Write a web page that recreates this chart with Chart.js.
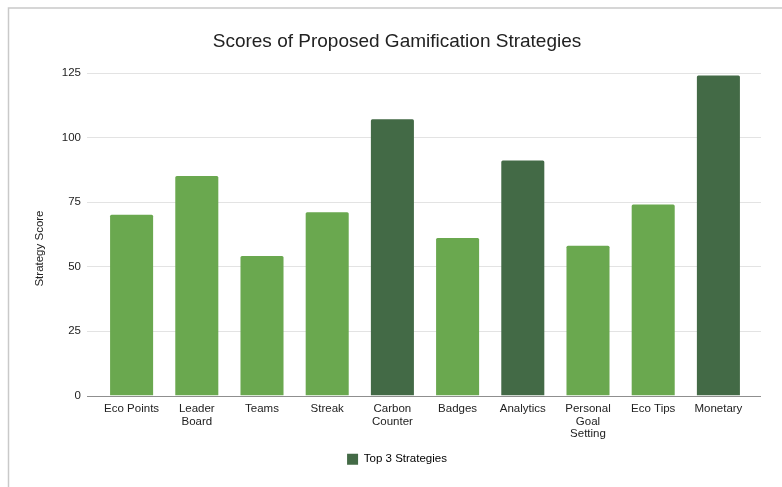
<!DOCTYPE html>
<html>
<head>
<meta charset="utf-8">
<script src="https://cdn.jsdelivr.net/npm/chart.js@4"></script>
<style>
  html, body { margin: 0; padding: 0; background: #fff; }
  #wrap { width: 782px; height: 487px; }
</style>
</head>
<body>
<div id="wrap"><canvas id="strategyChart" width="782" height="487"></canvas></div>
<script>
// strategies and their scores
var categories = [
    ['Eco Points'], ['Leader', 'Board'], ['Teams'], ['Streak'], ['Carbon', 'Counter'],
    ['Badges'], ['Analytics'], ['Personal', 'Goal', 'Setting'], ['Eco Tips'], ['Monetary']
];
var scores = [70, 85, 54, 71, 107, 61, 91, 58, 74, 124];
var topStrategies = ['Carbon Counter', 'Analytics', 'Monetary'];
var yTicks = [0, 25, 50, 75, 100, 125];

var LIGHT = '#6aa84f';
var DARK = '#436a46';

var barColors = categories.map(function (c) {
    return topStrategies.indexOf(c.join(' ')) >= 0 ? DARK : LIGHT;
});

Chart.defaults.font.family = '"Liberation Sans", Arial, sans-serif';
Chart.defaults.color = '#222';

// white background + the thin frame around the chart
var framePlugin = {
    id: 'frame',
    beforeDraw: function (chart) {
        var ctx = chart.ctx;
        ctx.save();
        ctx.fillStyle = '#fff';
        ctx.fillRect(0, 0, chart.width, chart.height);
        ctx.strokeStyle = '#c9c9c9';
        ctx.lineWidth = 1.5;
        ctx.beginPath();
        ctx.moveTo(8.5, chart.height);
        ctx.lineTo(8.5, 8);
        ctx.lineTo(chart.width, 8);
        ctx.stroke();
        ctx.restore();
    }
};

// horizontal gridlines, a little wider than the plot area
var gridPlugin = {
    id: 'hgrid',
    beforeDatasetsDraw: function (chart) {
        var ctx = chart.ctx, area = chart.chartArea, y = chart.scales.y;
        ctx.save();
        y.ticks.forEach(function (t) {
            var py = Math.round(y.getPixelForValue(t.value)) + 0.5;
            ctx.strokeStyle = t.value === 0 ? '#8f8f8f' : '#e3e3e3';
            ctx.lineWidth = 1;
            ctx.beginPath();
            ctx.moveTo(area.left - 12, py);
            ctx.lineTo(area.right + 10, py);
            ctx.stroke();
        });
        ctx.restore();
    }
};

var ctx = document.getElementById('strategyChart').getContext('2d');
var strategyChart = new Chart(ctx, {
    type: 'bar',
    data: {
        labels: categories,
        datasets: [{
            label: 'Top 3 Strategies',
            data: scores,
            backgroundColor: barColors,
            borderRadius: 1.5,
            borderSkipped: 'bottom',
            barPercentage: 0.66,
            categoryPercentage: 1
        }]
    },
    options: {
        responsive: false,
        animation: false,
        layout: { padding: { left: 12, right: 0, top: 0, bottom: 12 } },
        plugins: {
            title: {
                display: true,
                text: 'Scores of Proposed Gamification Strategies',
                color: '#222',
                font: { size: 19, weight: 'normal' },
                padding: { top: 30, bottom: 20 }
            },
            legend: {
                position: 'bottom',
                labels: {
                    boxWidth: 11,
                    boxHeight: 11,
                    padding: 10,
                    color: '#222',
                    font: { size: 11.5 },
                    generateLabels: function () {
                        return [{
                            text: 'Top 3 Strategies',
                            fillStyle: DARK,
                            strokeStyle: DARK,
                            lineWidth: 0,
                            hidden: false,
                            datasetIndex: 0
                        }];
                    }
                }
            },
            tooltip: { enabled: false }
        },
        scales: {
            x: {
                grid: { display: false, drawTicks: false },
                border: { display: false },
                ticks: {
                    autoSkip: false,
                    maxRotation: 0,
                    padding: 7,
                    color: '#222',
                    font: { size: 11.5, lineHeight: 1.1 }
                },
                afterFit: function (s) { s.height = 48; }
            },
            y: {
                min: 0,
                max: 125,
                afterBuildTicks: function (s) {
                    s.ticks = yTicks.map(function (v) { return { value: v }; });
                },
                grid: { display: false, drawTicks: false },
                border: { display: false },
                ticks: {
                    padding: 18,
                    color: '#222',
                    font: { size: 11.5 }
                },
                title: {
                    display: true,
                    // trailing spaces push the centred title a bit lower
                    text: 'Strategy Score         ',
                    color: '#222',
                    font: { size: 11.5 },
                    padding: { top: 21, bottom: 0 }
                },
                afterFit: function (s) { s.width = 87; }
            },
            // empty axis on the right that only reserves margin
            yRight: {
                position: 'right',
                display: true,
                grid: { display: false, drawTicks: false },
                border: { display: false },
                ticks: { display: false },
                afterFit: function (s) { s.width = 31; }
            }
        }
    },
    plugins: [framePlugin, gridPlugin]
});
</script>
</body>
</html>
